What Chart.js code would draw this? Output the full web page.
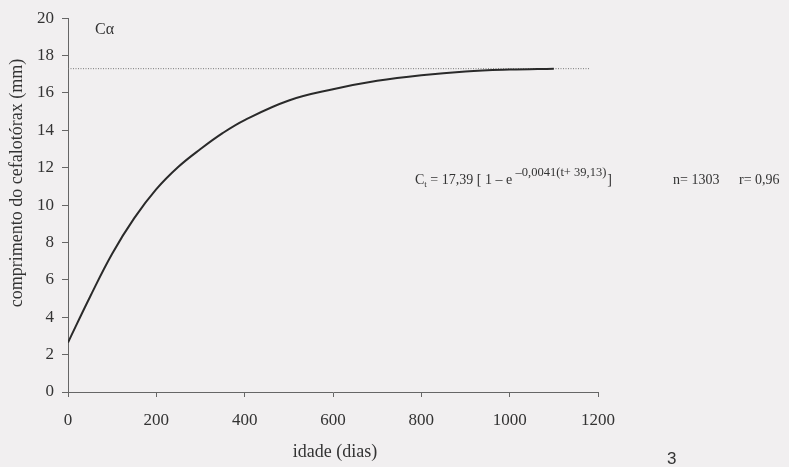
<!DOCTYPE html>
<html>
<head>
<meta charset="utf-8">
<script src="https://cdn.jsdelivr.net/npm/chart.js@4/dist/chart.umd.min.js"></script>
<style>
html,body{margin:0;padding:0;background:#f1eff0;}
#wrap{width:789px;height:467px;}
</style>
</head>
<body>
<div id="wrap"><canvas id="c" width="789" height="467"></canvas></div>
<script>
// valores
const idade = [0,50,100,150,200,250,300,350,400,500,600,700,800,900,1000,1100];
const comprimento = [2.65,5.1,7.4,9.3,10.85,12.05,13.0,13.85,14.55,15.6,16.2,16.65,16.95,17.15,17.25,17.3];
const assintotaX = [0,1180];
const assintotaY = [17.3,17.3];
const xTicks = [0,200,400,600,800,1000,1200];
const yTicks = [0,2,4,6,8,10,12,14,16,18,20];

const SERIF = "'Liberation Serif','Times New Roman',serif";
const INK = "#333";

function pts(xs, ys){ return xs.map((x,i)=>({x:x, y:ys[i]})); }

// textos soltos do gráfico
const textos = {
  id:"textos",
  afterDraw(chart){
    const ctx = chart.ctx;
    ctx.save();
    ctx.fillStyle = INK;
    ctx.textBaseline = "alphabetic";

    ctx.font = "16px " + SERIF;
    ctx.fillText("C\u03b1", 95, 34);

    // equação
    let x = 415, base = 184;
    ctx.font = "14px " + SERIF;
    ctx.fillText("C", x, base); x += ctx.measureText("C").width;
    ctx.font = "9px " + SERIF;
    ctx.fillText("t", x, base + 3); x += ctx.measureText("t").width;
    ctx.font = "14px " + SERIF;
    let s = " = 17,39 [ 1 \u2013 e ";
    ctx.fillText(s, x, base); x += ctx.measureText(s).width;
    ctx.font = "12.5px " + SERIF;
    s = "\u20130,0041(t+ 39,13)";
    ctx.fillText(s, x, base - 8); x += ctx.measureText(s).width + 1;
    ctx.font = "14px " + SERIF;
    ctx.fillText("]", x, base);
    ctx.fillText("n= 1303", 673, base);
    ctx.fillText("r= 0,96", 739, base);

    // títulos dos eixos
    ctx.font = "18px " + SERIF;
    ctx.textAlign = "center";
    ctx.fillText("idade (dias)", 335, 457);
    ctx.save();
    ctx.translate(22, 183);
    ctx.rotate(-Math.PI/2);
    ctx.fillText("comprimento do cefalot\u00f3rax (mm)", 0, 0);
    ctx.restore();

    ctx.font = "17px 'Liberation Sans',Arial,sans-serif";
    ctx.textAlign = "left";
    ctx.fillText("3", 667, 464);
    ctx.restore();
  }
};

new Chart(document.getElementById("c"), {
  type:"scatter",
  data:{
    datasets:[
      {
        data:pts(idade, comprimento),
        showLine:true,
        borderColor:"#2a2a2a",
        borderWidth:2,
        pointRadius:0,
        tension:0.4
      },
      {
        data:pts(assintotaX, assintotaY),
        showLine:true,
        borderColor:"#777",
        borderWidth:1,
        borderDash:[1,1.5],
        pointRadius:0
      }
    ]
  },
  options:{
    responsive:false,
    animation:false,
    layout:{padding:{left:0, top:15, right:191, bottom:0}},
    plugins:{legend:{display:false}, tooltip:{enabled:false}},
    scales:{
      x:{
        type:"linear", min:0, max:1200,
        afterBuildTicks(scale){ scale.ticks = xTicks.map(v=>({value:v})); },
        afterFit(scale){ scale.height = 75; },
        grid:{drawOnChartArea:false, tickLength:5, color:"#666", tickColor:"#666"},
        border:{color:"#666", width:1},
        ticks:{color:INK, padding:13, font:{family:SERIF, size:17}, callback:v=>String(v)}
      },
      y:{
        type:"linear", min:0, max:20,
        afterBuildTicks(scale){ scale.ticks = yTicks.map(v=>({value:v})); },
        afterFit(scale){ scale.width = 68; },
        grid:{drawOnChartArea:false, tickLength:6, color:"#666", tickColor:"#666"},
        border:{color:"#666", width:1},
        ticks:{color:INK, padding:8, font:{family:SERIF, size:17}, callback:v=>String(v)}
      }
    }
  },
  plugins:[textos]
});
</script>
</body>
</html>
